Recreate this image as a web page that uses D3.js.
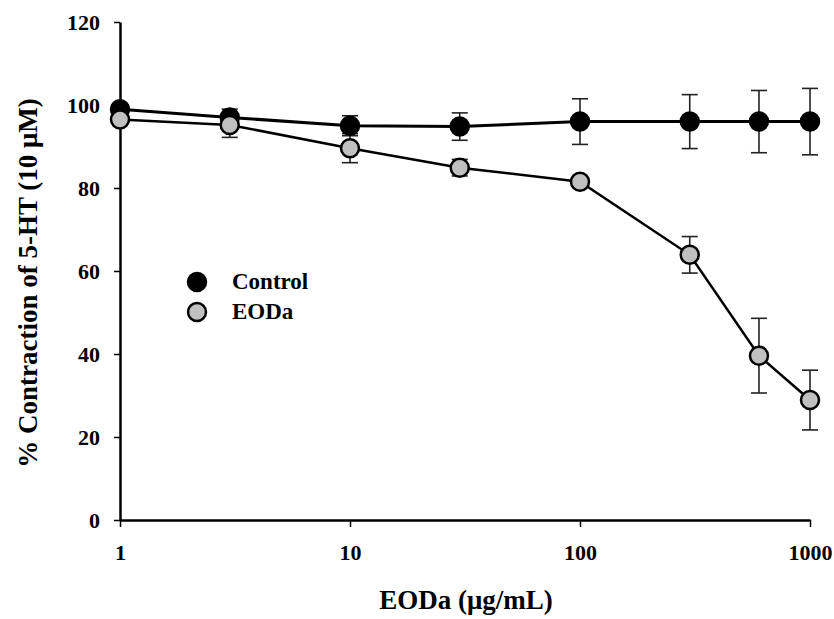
<!DOCTYPE html>
<html>
<head>
<meta charset="utf-8">
<script src="https://cdn.jsdelivr.net/npm/d3@7"></script>
<style>
  body { margin: 0; background: #fff; }
  svg text { font-family: "Liberation Serif", "Times New Roman", serif; font-weight: bold; fill: #000; }
</style>
</head>
<body>
<div id="chart"></div>
<script>
const doses = [1, 3, 10, 30, 100, 300, 600, 1000];
const controlMean = [99, 97, 95, 94.8, 96, 96, 96, 96];
const controlSE = [1, 2, 2.4, 3.3, 5.5, 6.5, 7.5, 8];
const eodaMean = [96.5, 95.2, 89.6, 84.9, 81.5, 63.9, 39.6, 28.9];
const eodaSE = [1, 3, 3.5, 2, 1, 4.4, 9, 7.2];
const xTicks = [1, 10, 100, 1000];
const yTicks = [0, 20, 40, 60, 80, 100, 120];

const svgWidth = 834;
const svgHeight = 619;

const svg = d3.select("#chart")
    .append("svg")
    .attr("width", svgWidth)
    .attr("height", svgHeight);

const x = d3.scaleLog().domain([1, 1000]).range([120, 810]);
const y = d3.scaleLinear().domain([0, 120]).range([520, 22]);

// axes
const yAxis = svg.append("g")
    .attr("transform", `translate(${x(1)},0)`)
    .call(d3.axisLeft(y).tickValues(yTicks).tickSize(6).tickPadding(14).tickSizeOuter(0).tickFormat(d3.format("d")));
const xAxis = svg.append("g")
    .attr("transform", `translate(0,${y(0)})`)
    .call(d3.axisBottom(x).tickValues(xTicks).tickSize(7).tickPadding(17).tickSizeOuter(0).tickFormat(d3.format("d")));

[xAxis, yAxis].forEach(a => {
    a.select(".domain").attr("stroke", "#000").attr("stroke-width", 2.5);
    a.selectAll(".tick line").attr("stroke", "#000").attr("stroke-width", 1.5);
    a.selectAll(".tick text").style("font-size", "22px");
});
yAxis.selectAll(".tick text").attr("dy", "0.35em");

// titles
svg.append("text")
    .attr("transform", `translate(37,283) rotate(-90)`)
    .attr("text-anchor", "middle")
    .style("font-size", "27px")
    .text("% Contraction of 5-HT (10 μM)");

svg.append("text")
    .attr("x", 466)
    .attr("y", 609)
    .attr("text-anchor", "middle")
    .style("font-size", "27px")
    .text("EODa (μg/mL)");

const series = [
    { name: "Control", mean: controlMean, se: controlSE, fill: "#000", lw: 3 },
    { name: "EODa", mean: eodaMean, se: eodaSE, fill: "#c0c0c0", lw: 2.5 }
];

const capW = 8;

// error bars
series.forEach(s => {
    const g = svg.append("g").attr("stroke", "#222").attr("stroke-width", 1.6);
    doses.forEach((d, i) => {
        const cx = x(d);
        const top = y(s.mean[i] + s.se[i]);
        const bot = y(s.mean[i] - s.se[i]);
        g.append("line").attr("x1", cx).attr("x2", cx).attr("y1", top).attr("y2", bot);
        g.append("line").attr("x1", cx - capW).attr("x2", cx + capW).attr("y1", top).attr("y2", top);
        g.append("line").attr("x1", cx - capW).attr("x2", cx + capW).attr("y1", bot).attr("y2", bot);
    });
});

// lines and markers
const line = d3.line().x(d => x(d[0])).y(d => y(d[1]));
series.forEach(s => {
    const pts = doses.map((d, i) => [d, s.mean[i]]);
    svg.append("path")
        .datum(pts)
        .attr("d", line)
        .attr("fill", "none")
        .attr("stroke", "#000")
        .attr("stroke-width", s.lw);
    svg.append("g").selectAll("circle").data(pts).enter().append("circle")
        .attr("cx", d => x(d[0]))
        .attr("cy", d => y(d[1]))
        .attr("r", 9)
        .attr("fill", s.fill)
        .attr("stroke", "#000")
        .attr("stroke-width", 2.5);
});

// legend
const legend = svg.append("g");
series.forEach((s, i) => {
    legend.append("circle")
        .attr("cx", 197)
        .attr("cy", 282 + i * 30)
        .attr("r", 9)
        .attr("fill", s.fill)
        .attr("stroke", "#000")
        .attr("stroke-width", 2.5);
    legend.append("text")
        .attr("x", 232)
        .attr("y", 289 + i * 30)
        .style("font-size", "23px")
        .text(s.name);
});
</script>
</body>
</html>
